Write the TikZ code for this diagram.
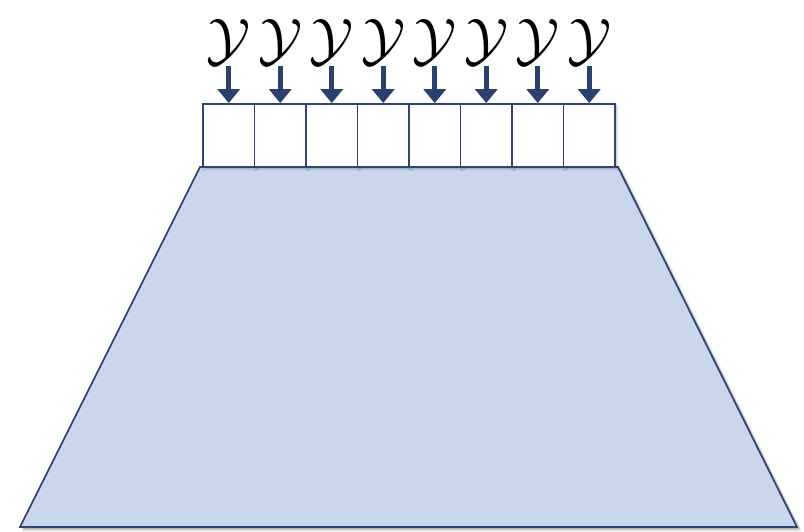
\documentclass[tikz,border=0pt]{standalone}
\usetikzlibrary{arrows.meta,shadows.blur}
\definecolor{slabfill}{RGB}{201,214,236}
\definecolor{slabline}{RGB}{47,68,115}
\definecolor{feedcol}{RGB}{44,64,112}
\begin{document}
\begin{tikzpicture}[x=0.03cm, y=-0.03cm,
  cell/.style={draw=slabline, line width=1.5pt, fill=white, inner sep=0pt,
    minimum width=1.545cm, minimum height=1.89cm,
    blur shadow={shadow xshift=1.5pt, shadow yshift=-1.5pt, shadow opacity=30}},
  letter/.style={inner sep=0pt, anchor=south},
  feed/.style={draw=feedcol, line width=4.2pt, shorten <=0.03cm,
    -{Triangle[width=0.66cm, length=0.42cm]}},
]
\useasboundingbox (0,0) rectangle (804,532);

% ---- Trapezoid ----
\draw[slabline, line width=1.5pt, fill=slabfill,
  blur shadow={shadow xshift=2.5pt, shadow yshift=-2.5pt, shadow opacity=35}]
  (200,167) -- (618,167) -- (797,527) -- (20,527) -- cycle;

% ---- Cells, their letters and input arrows ----
\foreach \i in {1,...,8} {
  \node[cell] (box\i) at ({203+51.5*(\i-0.5)},135.5) {};
  \node[letter] (y\i) at ({203+51.5*(\i-0.5)},65) {\scalebox{5}{$\mathcal{Y}$}};
  \draw[feed] (y\i.south) -- (box\i.north);
}
\end{tikzpicture}
\end{document}
